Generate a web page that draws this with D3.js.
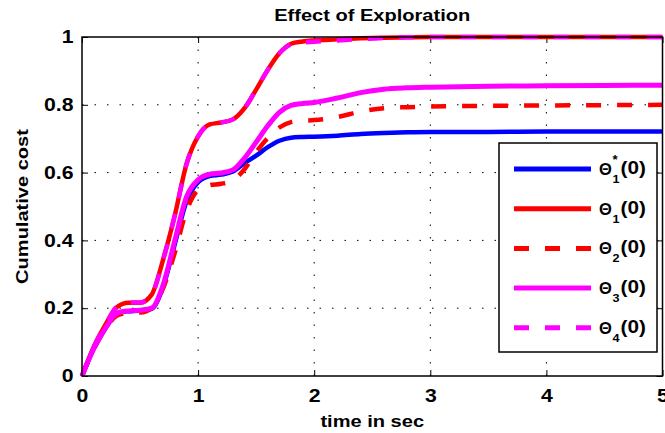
<!DOCTYPE html>
<html>
<head>
<meta charset="utf-8">
<style>
  body { margin: 0; background: #fff; }
  text { font-family: "Liberation Sans", Arial, sans-serif; font-weight: bold; }
</style>
</head>
<body>
<svg width="665" height="433"></svg>
<script src="https://cdnjs.cloudflare.com/ajax/libs/d3/7.8.5/d3.min.js"></script>
<script>
// time samples (sec)
var times = [0, 0.1, 0.2, 0.3, 0.35, 0.4, 0.5, 0.6, 0.7, 0.8, 0.9, 1.0, 1.1, 1.2, 1.3, 1.4, 1.5, 1.6, 1.7, 1.8, 1.9, 2.0, 2.2, 2.4, 2.6, 2.8, 3.0, 3.5, 4.0, 4.5, 5.0];

// cumulative cost per initial guess
var theta1star = [0, 0.08, 0.14, 0.183, 0.189, 0.191, 0.193, 0.198, 0.265, 0.39, 0.515, 0.572, 0.59, 0.594, 0.603, 0.628, 0.65, 0.675, 0.694, 0.703, 0.705, 0.706, 0.709, 0.714, 0.717, 0.719, 0.72, 0.72, 0.721, 0.721, 0.721];
var theta1 = [0, 0.085, 0.15, 0.203, 0.213, 0.216, 0.216, 0.24, 0.345, 0.475, 0.625, 0.707, 0.742, 0.748, 0.757, 0.79, 0.845, 0.903, 0.952, 0.98, 0.987, 0.99, 0.993, 0.996, 0.998, 0.999, 1.0, 1.0, 1.0, 1.0, 1.0];
var theta2 = [0, 0.078, 0.138, 0.178, 0.184, 0.186, 0.187, 0.2, 0.26, 0.365, 0.487, 0.549, 0.563, 0.567, 0.578, 0.61, 0.66, 0.702, 0.733, 0.749, 0.753, 0.755, 0.764, 0.78, 0.79, 0.793, 0.795, 0.797, 0.798, 0.799, 0.8];
var theta3 = [0, 0.08, 0.14, 0.185, 0.19, 0.192, 0.194, 0.2, 0.27, 0.40, 0.528, 0.579, 0.595, 0.599, 0.608, 0.643, 0.69, 0.738, 0.778, 0.798, 0.804, 0.807, 0.82, 0.836, 0.846, 0.85, 0.852, 0.855, 0.856, 0.857, 0.858];
var theta4 = [0, 0.085, 0.15, 0.205, 0.215, 0.217, 0.217, 0.24, 0.345, 0.475, 0.625, 0.707, 0.742, 0.748, 0.757, 0.79, 0.845, 0.903, 0.952, 0.978, 0.984, 0.986, 0.99, 0.994, 0.997, 0.999, 1.0, 1.0, 1.0, 1.0, 1.0];

var xTicks = [0, 1, 2, 3, 4, 5];
var yTicks = [0, 0.2, 0.4, 0.6, 0.8, 1];

var series = [
    {name: "theta1star", values: theta1star, color: "#0000ff", dash: null, width: 4.5, sub: "1", sup: "*"},
    {name: "theta1", values: theta1, color: "#ff0000", dash: null, width: 4.5, sub: "1", sup: ""},
    {name: "theta2", values: theta2, color: "#ff0000", dash: "15,16", width: 4.5, sub: "2", sup: ""},
    {name: "theta3", values: theta3, color: "#ff00ff", dash: null, width: 5, sub: "3", sup: ""},
    {name: "theta4", values: theta4, color: "#ff00ff", dash: "15,16", width: 4.5, sub: "4", sup: ""}
];

var svg = d3.select("svg"),
    margin = {top: 37, right: 2.5, bottom: 57, left: 82},
    width = +svg.attr("width") - margin.left - margin.right,
    height = +svg.attr("height") - margin.top - margin.bottom;

var stretch = 1.18;

var x = d3.scaleLinear().domain([0, 5]).range([0, width]);
var y = d3.scaleLinear().domain([0, 1]).range([height, 0]);

var g = svg.append("g").attr("transform", "translate(" + margin.left + "," + margin.top + ")");

// dotted grid
g.selectAll("line.gx")
    .data(xTicks.slice(1, -1))
    .enter().append("line")
    .attr("class", "gx")
    .attr("x1", function (d) { return x(d); })
    .attr("x2", function (d) { return x(d); })
    .attr("y1", 0)
    .attr("y2", height)
    .attr("stroke", "#000")
    .attr("stroke-width", 1)
    .attr("stroke-dasharray", "1.5,11");

g.selectAll("line.gy")
    .data(yTicks.slice(1, -1))
    .enter().append("line")
    .attr("class", "gy")
    .attr("x1", 0)
    .attr("x2", width)
    .attr("y1", function (d) { return y(d); })
    .attr("y2", function (d) { return y(d); })
    .attr("stroke", "#000")
    .attr("stroke-width", 1)
    .attr("stroke-dasharray", "1.5,11");

// axes with inward ticks on all four sides
function styleAxis(sel) {
    sel.select(".domain").remove();
    sel.selectAll(".tick line").attr("stroke", "#000").attr("stroke-width", 1);
    sel.selectAll(".tick text")
        .attr("font-size", 18)
        .attr("font-weight", "bold")
        .attr("font-family", "Liberation Sans, Arial, sans-serif")
        .attr("fill", "#000");
}

var xBottom = g.append("g")
    .attr("transform", "translate(0," + height + ")")
    .call(d3.axisBottom(x).tickValues(xTicks).tickSize(-6).tickPadding(13).tickFormat(d3.format("d")));
styleAxis(xBottom);
xBottom.selectAll(".tick text").attr("dy", "0.71em")
    .attr("transform", "scale(" + stretch + ",1)");

var yLeft = g.append("g")
    .call(d3.axisLeft(y).tickValues(yTicks).tickSize(-6).tickPadding(8)
        .tickFormat(function (d) { return d === 0 || d === 1 ? d : d.toFixed(1); }));
styleAxis(yLeft);
yLeft.selectAll(".tick text").attr("transform", "scale(" + stretch + ",1)")
    .attr("x", -8.5 / stretch);

var xTop = g.append("g")
    .call(d3.axisTop(x).tickValues(xTicks).tickSize(-6).tickFormat(""));
styleAxis(xTop);

var yRight = g.append("g")
    .attr("transform", "translate(" + width + ",0)")
    .call(d3.axisRight(y).tickValues(yTicks).tickSize(-6).tickFormat(""));
styleAxis(yRight);

// curves
var line = d3.line()
    .x(function (d, i) { return x(times[i]); })
    .y(function (d) { return y(d); })
    .curve(d3.curveMonotoneX);

series.forEach(function (s) {
    g.append("path")
        .datum(s.values)
        .attr("fill", "none")
        .attr("stroke", s.color)
        .attr("stroke-width", s.width)
        .attr("stroke-dasharray", s.dash)
        .attr("d", line);
});

// frame
g.append("rect")
    .attr("x", 0).attr("y", 0)
    .attr("width", width).attr("height", height)
    .attr("fill", "none")
    .attr("stroke", "#000")
    .attr("stroke-width", 1.5);

// stretched text helper
function label(parent, tx, ty, txt, size, anchor, rot) {
    return parent.append("text")
        .attr("transform", "translate(" + tx + "," + ty + ")" + (rot ? " rotate(" + rot + ")" : "") + " scale(" + stretch + ",1)")
        .attr("text-anchor", anchor)
        .attr("font-size", size)
        .attr("fill", "#000")
        .text(txt);
}

label(svg, margin.left + width / 2, 21, "Effect of Exploration", 17, "middle");
label(svg, margin.left + width / 2, 427, "time in sec", 17, "middle");
label(svg, 28, margin.top + height / 2, "Cumulative cost", 17, "middle", -90);

// legend
var legend = svg.append("g").attr("transform", "translate(499,143)");
legend.append("rect")
    .attr("width", 158).attr("height", 209)
    .attr("fill", "#fff")
    .attr("stroke", "#000")
    .attr("stroke-width", 1.5);

var entry = legend.selectAll("g.entry")
    .data(series)
    .enter().append("g")
    .attr("class", "entry")
    .attr("transform", function (d, i) { return "translate(0," + (26 + i * 39.7) + ")"; });

entry.append("line")
    .attr("x1", 15).attr("x2", 92)
    .attr("y1", 0).attr("y2", 0)
    .attr("stroke", function (d) { return d.color; })
    .attr("stroke-width", 5)
    .attr("stroke-dasharray", function (d) { return d.dash; });

// Θ, subscript, optional superscript, then (0)
entry.append("text")
    .attr("transform", "translate(100,6)")
    .attr("font-family", "DejaVu Sans, sans-serif")
    .attr("font-weight", "normal")
    .attr("font-size", 16.5)
    .attr("fill", "#000")
    .text("Θ");
entry.append("text")
    .attr("transform", "translate(113.5,14) scale(1.1,1)")
    .attr("font-size", 11.5)
    .attr("fill", "#000")
    .text(function (d) { return d.sub; });
entry.filter(function (d) { return d.sup; })
    .append("text")
    .attr("transform", "translate(113.5,-5) scale(1.1,1)")
    .attr("font-size", 12)
    .attr("fill", "#000")
    .text(function (d) { return d.sup; });
entry.append("text")
    .attr("transform", "translate(121.5,5) scale(1.15,1)")
    .attr("font-size", 18)
    .attr("fill", "#000")
    .text("(0)");
</script>
</body>
</html>
